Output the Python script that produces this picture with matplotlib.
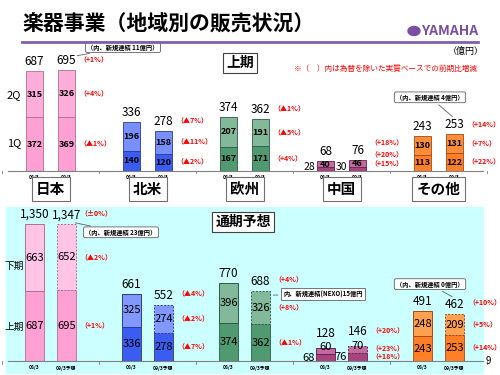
import matplotlib.pyplot as plt
from matplotlib.patches import Rectangle, Circle

plt.rcParams['font.family'] = ['Noto Sans CJK JP', 'DejaVu Sans']

# data (億円)
regions = ['日本', '北米', '欧州', '中国', 'その他']

# 上期 (first half) : 1Q / 2Q
h1_q1_prev = [372, 140, 167, 28, 113]
h1_q2_prev = [315, 196, 207, 40, 130]
h1_tot_prev = [687, 336, 374, 68, 243]
h1_q1_cur = [369, 120, 171, 30, 122]
h1_q2_cur = [326, 158, 191, 46, 131]
h1_tot_cur = [695, 278, 362, 76, 253]
h1_pct_tot = ['（+1%）', '（▲7%）', '（▲1%）', '（+18%）', '（+14%）']
h1_pct_q2 = ['（+4%）', '（▲11%）', '（▲5%）', '（+20%）', '（+7%）']
h1_pct_q1 = ['（▲1%）', '（▲2%）', '（+4%）', '（+15%）', '（+22%）']

# 通期予想 (full year) : 上期 / 下期
fy_h1_prev = [687, 336, 374, 68, 243]
fy_h2_prev = [663, 325, 396, 60, 248]
fy_tot_prev = ['1,350', '661', '770', '128', '491']
fy_h1_cur = [695, 278, 362, 76, 253]
fy_h2_cur = [652, 274, 326, 70, 209]
fy_tot_cur = ['1,347', '552', '688', '146', '462']
fy_pct_tot = ['（±0%）', '（▲4%）', '（+4%）', '（+20%）', '（+10%）']
fy_pct_h2 = ['（▲2%）', '（▲2%）', '（+8%）', '（+23%）', '（+5%）']
fy_pct_h1 = ['（+1%）', '（▲7%）', '（▲1%）', '（+18%）', '（+14%）']

top_xlabels = ['08/3', '09/3']
bot_xlabels = ['08/3', '09/3予想']

light = ['#ffc4e6', '#8098ff', '#82b99a', '#c46a9e', '#ffa050']
dark = ['#ffa0d4', '#3a5cf0', '#4f9a70', '#a8437f', '#ff7e26']
edges = ['#b07090', '#2a3a90', '#2d5c40', '#6a2050', '#a04a10']
top_light = ['#ffaedb', '#7890ff', '#82b99a', '#c46a9e', '#ff8c38']

W, H = 500, 375
fig = plt.figure(figsize=(5, 3.75), dpi=100)
fig.patch.set_facecolor('white')


def fx(x):
    return x / W


def fy(y):
    return 1 - y / H


group_px = 97
first_center = 50.5
xlim = (-first_center / group_px, (W - first_center) / group_px)
off = 16 / group_px
red = '#ff0000'
pct_fs = 5

# cyan panel for the full-year part
fig.patches.append(Rectangle((fx(6), fy(373)), 477 / W, 166 / H,
                             transform=fig.transFigure, color='#ccffff', zorder=-5))

# title
fig.text(fx(22), fy(24), '楽器事業（地域別の販売状況）', fontsize=15, fontweight='bold',
         va='center', ha='left')
fig.add_artist(plt.Line2D([fx(22), fx(478)], [fy(42), fy(42)], color='#8060a8', lw=2))
fig.patches.append(Circle((fx(414), fy(31)), 6 / W, transform=fig.transFigure,
                          color='#7a4fa0'))
fig.text(fx(478), fy(31), 'YAMAHA', fontsize=10, fontweight='bold', color='#7a4fa0',
         ha='right', va='center')
fig.text(fx(466), fy(51), '（億円）', fontsize=6.5, ha='center', va='center')
fig.text(fx(385), fy(69), '※（　）内は為替を除いた実質ベースでの前期比増減', fontsize=5.5,
         color=red, ha='center', va='center')
fig.text(fx(488), fy(361), '9', fontsize=7, ha='center', va='center')


def make_axes(base_px, top_px, scale):
    ax = fig.add_axes([0, fy(base_px), 1, (base_px - top_px) / H])
    ax.set_xlim(xlim)
    ax.set_ylim(0, (base_px - top_px) / scale)
    ax.axis('off')
    ax.plot([xlim[0] + 8 / group_px, xlim[1] - 17 / group_px], [0, 0], color='#808080',
            lw=0.8, clip_on=False)
    for b in [-0.5, 0.5, 1.5, 2.5, 3.5, 4.5]:
        ax.plot([b, b], [0, -2.5 / scale], color='#808080', lw=0.6, clip_on=False)
    return ax


# ---------------- 上期 ----------------
sc1 = 0.145
ax1 = make_axes(171, 40, sc1)
bw1 = 17 / group_px
for i in range(5):
    for j, (q1, q2, tot) in enumerate([(h1_q1_prev[i], h1_q2_prev[i], h1_tot_prev[i]),
                                       (h1_q1_cur[i], h1_q2_cur[i], h1_tot_cur[i])]):
        x = i + (j - 0.5) * 2 * off
        ax1.bar(x, q1, bw1, color=dark[i], edgecolor=edges[i], lw=0.6)
        ax1.bar(x, q2, bw1, bottom=q1, color=top_light[i], edgecolor=edges[i], lw=0.6)
        ax1.text(x, tot + 3 / sc1, str(tot), ha='center', va='bottom', fontsize=8.5)
        ax1.text(x, q1 + q2 / 2, str(q2), ha='center', va='center', fontsize=6.5,
                 fontweight='bold')
        if q1 * sc1 > 10:
            ax1.text(x, q1 / 2, str(q1), ha='center', va='center', fontsize=6.5,
                     fontweight='bold')
        else:
            ax1.text(x - bw1 / 2 - 2 / group_px, q1 / 2 + 2 / sc1, str(q1), ha='right',
                     va='center', fontsize=7.5)
        ax1.text(x, -7 / sc1, top_xlabels[j], ha='center', va='center', fontsize=3.5,
                 fontweight='bold')
    # percentages beside the current bar
    xp = i + off + bw1 / 2 + 4 / group_px
    q1, q2, tot = h1_q1_cur[i], h1_q2_cur[i], h1_tot_cur[i]
    if i == 3:
        ys = [tot + 17 / sc1, tot + 5 / sc1, tot - 4 / sc1]
    else:
        ys = [tot + 10 / sc1, q1 + q2 / 2, q1 / 2]
    for y, t in zip(ys, [h1_pct_tot[i], h1_pct_q2[i], h1_pct_q1[i]]):
        ax1.text(xp, y, t, ha='left', va='center', fontsize=pct_fs, color=red,
                 fontweight='bold')

fig.text(fx(14), fy(95), '2Q', fontsize=8, ha='center', va='center')
fig.text(fx(14), fy(143), '1Q', fontsize=8, ha='center', va='center')
fig.text(fx(240), fy(63), '上期', fontsize=10, fontweight='bold', ha='center', va='center',
         bbox=dict(boxstyle='square,pad=0.25', fc='white', ec='#404040', lw=0.8))

ax1.annotate('（内、新規連結 11億円）', xy=(0 + off + 8 / group_px, 695 + 14 / sc1),
             xytext=(123 / group_px - first_center / group_px, 695 + 23 / sc1),
             fontsize=4.5, fontweight='bold', ha='center', va='center',
             bbox=dict(boxstyle='round,pad=0.3', fc='white', ec='#606060', lw=0.6),
             arrowprops=dict(arrowstyle='-', color='#606060', lw=0.6))
ax1.annotate('（内、新規連結 4億円）', xy=(4 + off, 253 + 16 / sc1),
             xytext=((430 - first_center) / group_px, 253 + 37 / sc1),
             fontsize=4.5, fontweight='bold', ha='center', va='center',
             bbox=dict(boxstyle='round,pad=0.3', fc='white', ec='#606060', lw=0.6),
             arrowprops=dict(arrowstyle='-', color='#606060', lw=0.6))

# region boxes
for i, name in enumerate(regions):
    fig.text(fx(first_center + i * group_px), fy(189), name, fontsize=10.5,
             fontweight='bold', ha='center', va='center',
             bbox=dict(boxstyle='square,pad=0.3', fc='white', ec='#707070', lw=0.8))

# ---------------- 通期予想 ----------------
sc2 = 0.1015
ax2 = make_axes(361, 207, sc2)
bw2 = 19 / group_px
for i in range(5):
    pairs = [(fy_h1_prev[i], fy_h2_prev[i], fy_tot_prev[i]),
             (fy_h1_cur[i], fy_h2_cur[i], fy_tot_cur[i])]
    for j, (a, b, lab) in enumerate(pairs):
        x = i + (j - 0.5) * 2 * off
        ls = '-' if j == 0 else (0, (2, 1.5))
        ax2.bar(x, a, bw2, color=dark[i], edgecolor=edges[i], lw=0.6)
        ax2.bar(x, b, bw2, bottom=a, color=light[i], edgecolor=edges[i], lw=0.7,
                linestyle=ls)
        lift = 8 if i == 3 else 3
        ax2.text(x, a + b + lift / sc2, lab, ha='center', va='bottom', fontsize=8.5)
        ax2.text(x, a + b / 2 + (4 / sc2 if i == 3 else 0), str(b), ha='center',
                 va='center', fontsize=8)
        if a * sc2 > 10:
            ax2.text(x, a / 2, str(a), ha='center', va='center', fontsize=8)
        else:
            ax2.text(x - bw2 / 2 - 1 / group_px, a / 2, str(a), ha='right',
                     va='center', fontsize=8)
        ax2.text(x, -7 / sc2, bot_xlabels[j], ha='center', va='center', fontsize=3.5,
                 fontweight='bold')
    xp = i + off + bw2 / 2 + 4 / group_px
    a, b = fy_h1_cur[i], fy_h2_cur[i]
    tot = a + b
    if i == 3:
        ys = [tot + 15 / sc2, tot - 3 / sc2, tot - 11 / sc2]
    else:
        ys = [tot + 11 / sc2, a + b / 2, a / 2]
    for y, t in zip(ys, [fy_pct_tot[i], fy_pct_h2[i], fy_pct_h1[i]]):
        ax2.text(xp, y, t, ha='left', va='center', fontsize=pct_fs, color=red,
                 fontweight='bold')

fig.text(fx(14), fy(266), '下期', fontsize=7, ha='center', va='center')
fig.text(fx(14), fy(327), '上期', fontsize=7, ha='center', va='center')
fig.text(fx(243), fy(222), '通期予想', fontsize=10, fontweight='bold', ha='center',
         va='center', bbox=dict(boxstyle='square,pad=0.25', fc='white', ec='#404040', lw=0.8))

ax2.annotate('（内、新規連結 23億円）', xy=(off + 6 / group_px, 1347 + 2 / sc2),
             xytext=((121 - first_center) / group_px, 1347 - 8 / sc2),
             fontsize=4.5, fontweight='bold', ha='center', va='center',
             bbox=dict(boxstyle='round,pad=0.3', fc='white', ec='#606060', lw=0.6),
             arrowprops=dict(arrowstyle='-', color='#606060', lw=0.6))
ax2.annotate('内、新規連結(NEXO)15億円', xy=(2 + off + 10 / group_px, 688 - 4 / sc2),
             xytext=((323 - first_center) / group_px, 688 - 3 / sc2),
             fontsize=4.5, fontweight='bold', ha='center', va='center',
             bbox=dict(boxstyle='square,pad=0.35', fc='white', ec='#606060', lw=0.6),
             arrowprops=dict(arrowstyle='-', color='#606060', lw=0.6))
ax2.annotate('（内、新規連結 0億円）', xy=(4 + off, 462 + 16 / sc2),
             xytext=((430 - first_center) / group_px, 462 + 30 / sc2),
             fontsize=4.5, fontweight='bold', ha='center', va='center',
             bbox=dict(boxstyle='round,pad=0.3', fc='white', ec='#606060', lw=0.6),
             arrowprops=dict(arrowstyle='-', color='#606060', lw=0.6))

fig.savefig('out.png', dpi=100, facecolor='white')
